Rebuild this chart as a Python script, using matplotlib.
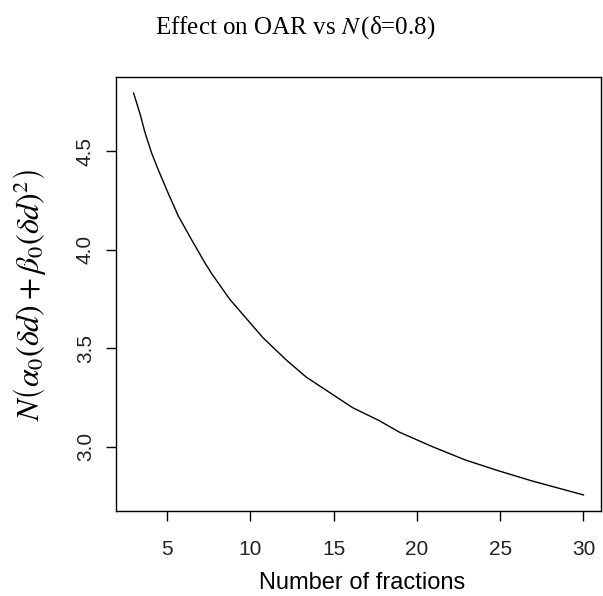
import numpy as np
import matplotlib
matplotlib.use('Agg')
import matplotlib.pyplot as plt

# values
n_frac = [3.0, 3.39, 3.68, 4.08, 4.48, 5.08, 5.68, 6.48, 7.27, 7.71, 8.77, 9.37, 10.76,
          12.16, 13.36, 16.14, 17.74, 18.94, 20.93, 22.92, 24.92, 26.91, 30.0]
effect = [4.794, 4.688, 4.595, 4.49, 4.405, 4.285, 4.171, 4.05, 3.934, 3.875, 3.748, 3.689,
          3.553, 3.44, 3.353, 3.198, 3.132, 3.074, 3.0, 2.932, 2.877, 2.826, 2.755]
xticks = [5, 10, 15, 20, 25, 30]
yticks = [3.0, 3.5, 4.0, 4.5]

plt.rcParams['mathtext.fontset'] = 'stix'

fig = plt.figure(figsize=(6.03, 5.96), dpi=100)
ax = fig.add_axes([0.1917, 0.1426, 0.8058, 0.7282])

ax.plot(n_frac, effect, color='black', lw=1.0)

# R style 4% padding
xr = max(n_frac) - min(n_frac)
yr = max(effect) - min(effect)
ax.set_xlim(min(n_frac) - 0.04 * xr, max(n_frac) + 0.04 * xr)
ax.set_ylim(min(effect) - 0.04 * yr, max(effect) + 0.04 * yr)

ax.set_xticks(xticks)
ax.set_yticks(yticks)
ax.set_xticklabels([str(t) for t in xticks], family='Liberation Sans', fontsize=15, color='#222222')
ax.set_yticklabels(['%.1f' % t for t in yticks], family='Liberation Sans', fontsize=15,
                   color='#222222', rotation=90, va='center')
ax.tick_params(axis='x', direction='out', length=7, width=1, pad=14)
ax.tick_params(axis='y', direction='out', length=7, width=1, pad=8)
for s in ax.spines.values():
    s.set_linewidth(1.0)

fig.text(0.49, 0.953, r'Effect on OAR vs $N\,$(δ=0.8)', ha='center', va='center',
         family='Liberation Serif', fontsize=18)
fig.text(0.6, 0.021, 'Number of fractions', ha='center', va='center',
         family='Liberation Sans', fontsize=17)
fig.text(0.05, 0.505, r'$N\left(\alpha_0(\delta d)+\beta_0(\delta d)^2\right)$', ha='center',
         va='center', rotation=90, fontsize=23)

plt.savefig('out.png', dpi=100)
